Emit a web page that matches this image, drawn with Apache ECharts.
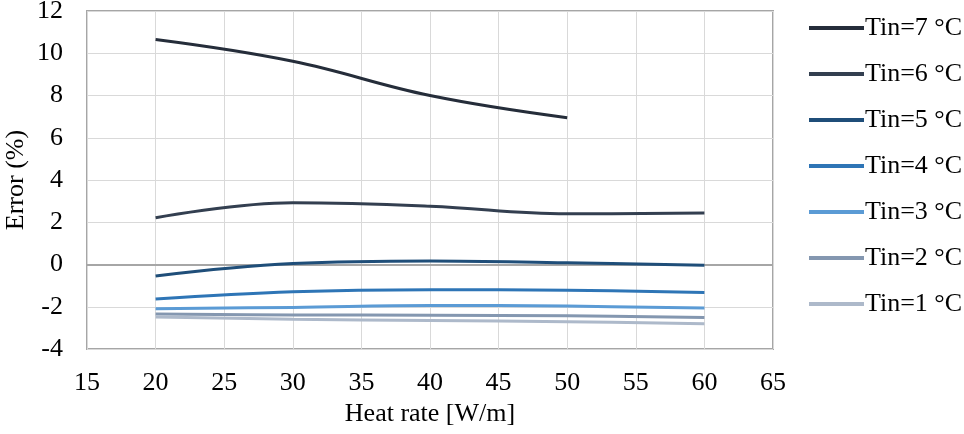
<!DOCTYPE html>
<html><head><meta charset="utf-8">
<script src="https://cdn.jsdelivr.net/npm/echarts@6/dist/echarts.min.js"></script>
<style>html,body{margin:0;padding:0;background:#fff}#c{width:964px;height:434px}</style>
</head><body><div id="c"></div>
<script>
const heatRates = [20, 30, 40, 50, 60];
const seriesNames = ['Tin=7 °C','Tin=6 °C','Tin=5 °C','Tin=4 °C','Tin=3 °C','Tin=2 °C','Tin=1 °C'];
const tin7 = [10.65, 9.62, 8.0, 6.95, null];
const tin6 = [2.21, 2.92, 2.76, 2.40, 2.44];
const tin5 = [-0.54, 0.05, 0.17, 0.08, -0.03];
const tin4 = [-1.63, -1.29, -1.19, -1.22, -1.32];
const tin3 = [-2.09, -2.03, -1.94, -1.97, -2.06];
const tin2 = [-2.34, -2.39, -2.40, -2.43, -2.51];
const tin1 = [-2.48, -2.59, -2.65, -2.71, -2.81];
const allValues = [tin7, tin6, tin5, tin4, tin3, tin2, tin1];
const colors = ['#252d3a','#333f50','#1f4e79','#2e75b6','#5b9bd5','#8497b0','#adb9ca'];

const font = '"Liberation Serif", "Times New Roman", serif';
const series = seriesNames.map((n, i) => ({
  name: n, type: 'line', smooth: 0.4, symbol: 'none',
  data: heatRates.map((x, j) => [x, allValues[i][j]]).filter(p => p[1] !== null),
  lineStyle: {width: 3, color: colors[i]}, itemStyle: {color: colors[i]},
  z: 10
}));
series.push({
  type: 'line', data: [], silent: true, z: 1,
  markLine: {silent: true, symbol: 'none', label: {show: false}, z: 1,
    lineStyle: {color: '#a6a6a6', width: 2, type: 'solid'}, data: [{yAxis: 0}]}
});
const chart = echarts.init(document.getElementById('c'));
chart.setOption({
  animation: false,
  color: colors,
  grid: {left: 87, right: 191, top: 11, bottom: 85, show: true, borderColor: '#a6a6a6', borderWidth: 2,
    containLabel: false, outerBoundsMode: 'none'},
  xAxis: {
    type: 'value', min: 15, max: 65, interval: 5,
    name: 'Heat rate [W/m]', nameLocation: 'middle', nameGap: 48,
    nameTextStyle: {fontFamily: font, fontSize: 26, color: '#000'},
    axisLine: {show: false, onZero: false}, axisTick: {show: false},
    axisLabel: {fontFamily: font, fontSize: 26, color: '#000', margin: 21},
    splitLine: {show: true, lineStyle: {color: '#d9d9d9', width: 1}}
  },
  yAxis: {
    type: 'value', min: -4, max: 12, interval: 2,
    name: 'Error (%)', nameLocation: 'middle', nameGap: 58, nameMoveOverlap: false,
    nameTextStyle: {fontFamily: font, fontSize: 26, color: '#000'},
    axisLine: {show: false}, axisTick: {show: false},
    axisLabel: {fontFamily: font, fontSize: 26, color: '#000', margin: 24},
    splitLine: {show: true, lineStyle: {color: '#d9d9d9', width: 1}}
  },
  legend: {
    orient: 'vertical', left: 804, top: 10, itemWidth: 55, itemHeight: 4, itemGap: 20,
    icon: 'rect', data: seriesNames,
    textStyle: {fontFamily: font, fontSize: 26, color: '#000', padding: [0,0,0,-4]}
  },
  series: series
});
</script></body></html>
